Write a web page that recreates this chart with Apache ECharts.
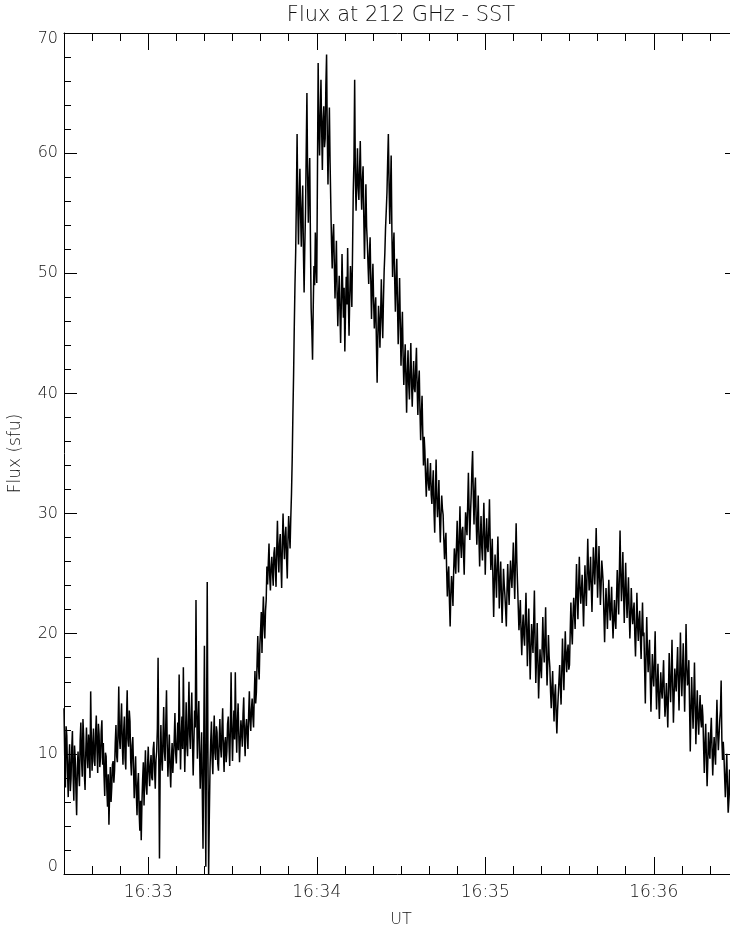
<!DOCTYPE html>
<html>
<head>
<meta charset="utf-8">
<script src="https://cdn.jsdelivr.net/npm/echarts@6/dist/echarts.min.js"></script>
<style>
html,body{margin:0;padding:0;background:#fff;}
#chart{width:730px;height:925px;}
</style>
</head>
<body>
<div id="chart"></div>
<script>
// ---- data (flux in sfu, one sample every 0.25 s, starting 16:32:30 UT) ----
const startMinute = 32.5;     // minutes after 16:00 UT -> 16:32:30
const stepSeconds = 0.25;

const flux_163230 = [
  13.8, 9.9, 7.2, 12.3, 11.5, 8.6, 6.4, 9.2, 10.8, 6.9, 7.9, 10.4, 11.9, 8.2, 6.1, 10.7, 9.6, 7.0, 4.9, 8.8,
  10.2, 8.4, 7.3, 11.1, 12.6, 9.5, 8.1, 12.9, 11.4, 8.3, 7.0, 10.1, 12.2, 9.9, 8.8, 11.6, 10.5, 8.0, 15.2, 10.9,
  8.6, 10.8, 12.1, 9.4, 9.0, 11.7, 13.2, 10.3, 8.4, 12.5, 11.6, 8.9, 9.7, 11.9, 12.8, 9.1, 10.9, 8.2, 6.5, 10.1,
  9.8, 7.1, 5.6, 8.3, 4.1, 6.8, 8.9, 6.0, 7.2, 9.1, 9.4, 7.6, 8.6, 10.9, 12.4, 9.8, 9.3, 12.0, 15.6, 11.3,
  10.4, 12.6, 14.2, 10.8, 9.1, 11.9, 13.1, 9.6, 8.7, 12.8, 15.3, 11.2, 10.6, 13.6, 12.7, 9.4, 8.2, 10.7, 11.4, 8.9,
  6.3, 8.1, 9.8, 6.7, 4.9, 7.5, 8.4, 5.2, 3.6, 6.1, 2.8, 5.9, 7.9, 9.3, 5.7, 8.2, 10.3, 7.4, 6.6, 9.0
];
const flux_163300 = [
  10.6, 8.5, 7.3, 9.1, 9.9, 8.0, 7.8, 10.4, 11.0, 8.7, 7.1, 9.5, 10.2, 12.1, 18.0, 9.7, 1.3, 8.9, 12.4, 9.6,
  8.6, 11.4, 13.9, 10.2, 9.4, 12.6, 15.3, 10.8, 8.1, 9.9, 11.6, 8.8, 7.2, 9.6, 10.9, 8.4, 8.3, 11.2, 13.4, 10.1,
  9.2, 11.0, 12.6, 10.3, 16.6, 11.8, 8.7, 11.5, 13.1, 10.4, 17.2, 12.0, 8.5, 11.3, 14.3, 10.7, 9.8, 12.9, 16.0, 11.6,
  10.4, 13.2, 15.1, 11.0, 8.2, 10.9, 13.6, 12.2, 22.8, 13.9, 9.6, 12.5, 14.4, 10.3, 7.1, 9.4, 11.8, 6.8, 2.1, 10.6,
  19.0, 8.1, 0.6, 11.7, 24.3, 10.2, 0.0, 4.9, 8.8, 11.1, 12.7, 9.6, 8.3, 11.4, 13.2, 10.1, 9.5, 12.3, 11.8, 9.2,
  8.6, 11.0, 12.9, 10.6, 9.7, 12.1, 13.8, 10.4, 8.5, 10.9, 11.4, 9.3, 10.2, 12.5, 13.1, 10.8, 9.0, 12.2, 16.8, 12.0
];
const flux_163330 = [
  9.4, 11.9, 13.6, 11.2, 16.8, 12.4, 10.1, 12.7, 14.2, 11.5, 9.3, 11.1, 12.8, 11.8, 10.6, 13.3, 14.7, 11.4, 9.8, 12.2,
  12.9, 11.6, 10.4, 13.3, 15.2, 12.8, 11.9, 13.7, 14.6, 13.1, 12.2, 14.8, 16.9, 14.2, 15.1, 17.6, 19.8, 17.3, 16.2, 19.1,
  20.3, 21.8, 18.4, 21.2, 23.1, 20.7, 19.6, 21.9, 22.8, 25.6, 24.1, 25.9, 27.5, 24.8, 23.6, 25.5, 26.4, 25.1, 24.0, 26.7,
  27.2, 25.4, 23.9, 27.0, 29.4, 26.6, 25.1, 27.5, 28.3, 25.9, 23.8, 27.4, 30.0, 27.7, 26.2, 28.1, 28.9, 26.3, 24.6, 27.8,
  29.8, 28.3, 27.1, 29.6, 31.6, 34.4, 38.2, 41.5, 45.6, 49.1, 51.8, 56.3, 61.6, 55.7, 52.4, 56.2, 58.7, 54.9, 52.2, 55.4,
  57.3, 51.9, 48.4, 52.3, 55.1, 60.2, 65.0, 58.1, 54.2, 57.6, 59.6, 52.8, 47.1, 45.3, 42.8, 47.2, 50.6, 49.0, 53.4, 50.7
];
const flux_163400 = [
  49.2, 58.3, 67.5, 62.4, 59.8, 63.1, 66.1, 61.9, 58.6, 62.7, 63.9, 60.5, 61.2, 65.7, 68.2, 61.5, 57.4, 60.9, 63.8, 59.2,
  55.8, 52.6, 50.4, 53.0, 54.1, 50.8, 47.9, 50.2, 52.7, 48.3, 45.6, 48.1, 49.8, 46.9, 44.2, 47.5, 51.6, 48.6, 46.3, 48.8,
  43.5, 46.9, 49.7, 47.4, 52.1, 47.8, 44.8, 48.1, 50.6, 49.2, 47.2, 51.9, 56.8, 59.4, 66.1, 58.0, 55.2, 57.9, 60.4, 57.1,
  56.1, 58.7, 61.0, 57.2, 55.3, 57.8, 58.9, 54.6, 51.2, 54.3, 57.4, 53.9, 52.6, 50.8, 49.1, 51.6, 53.0, 49.4, 46.2, 49.0,
  50.8, 47.7, 45.4, 47.1, 48.0, 44.1, 40.9, 44.8, 47.3, 45.9, 43.8, 46.6, 49.5, 46.4, 44.6, 47.8, 50.2, 51.7, 53.8, 55.2,
  56.7, 59.3, 61.6, 57.5, 54.1, 56.9, 59.8, 53.6, 49.7, 52.0, 53.4, 49.5, 46.8, 49.3, 51.2, 47.4, 44.1, 47.0, 49.6, 45.8
];
const flux_163430 = [
  42.3, 44.9, 46.8, 43.1, 40.7, 42.5, 44.1, 41.2, 38.4, 41.7, 43.6, 40.8, 39.5, 42.0, 44.2, 40.9, 38.9, 41.1, 42.7, 40.4,
  40.1, 42.2, 43.8, 40.5, 38.2, 40.9, 41.9, 38.6, 36.1, 38.3, 39.8, 36.7, 34.0, 36.4, 35.2, 33.1, 31.4, 33.3, 34.6, 32.5,
  31.9, 33.0, 34.2, 31.6, 30.8, 32.4, 33.6, 30.2, 28.4, 31.7, 34.5, 31.3, 29.7, 31.0, 32.8, 29.5, 27.6, 29.9, 31.5, 30.4,
  29.9, 27.8, 26.2, 27.6, 28.4, 25.3, 23.1, 24.9, 25.6, 22.7, 20.6, 23.4, 24.8, 23.7, 22.3, 25.2, 27.1, 26.0, 25.0, 27.3,
  29.4, 26.9, 25.1, 28.1, 30.6, 27.5, 26.3, 28.6, 28.9, 26.7, 24.9, 27.9, 30.1, 29.2, 28.2, 30.8, 33.4, 30.3, 27.8, 30.0,
  31.6, 33.7, 35.2, 31.4, 29.1, 31.8, 33.0, 29.6, 27.4, 29.3, 31.5, 28.0, 25.6, 27.9, 29.8, 27.2, 26.1, 28.5, 30.9, 28.3
];
const flux_163500 = [
  24.9, 27.5, 29.6, 27.2, 26.8, 28.7, 31.2, 27.8, 25.3, 26.4, 27.9, 24.2, 21.4, 24.5, 26.6, 24.8, 23.0, 25.7, 28.1, 25.2,
  22.1, 24.3, 26.0, 23.4, 20.9, 23.0, 25.4, 24.1, 23.2, 22.0, 20.6, 23.6, 25.8, 23.9, 22.4, 24.6, 26.1, 24.7, 23.8, 25.7,
  27.6, 24.8, 22.9, 26.3, 29.2, 26.0, 24.1, 22.2, 20.3, 21.5, 22.8, 20.1, 18.2, 20.4, 21.6, 19.8, 19.0, 21.2, 23.4, 20.6,
  17.3, 19.9, 22.1, 19.2, 16.2, 18.5, 20.8, 19.6, 18.4, 21.0, 23.6, 19.3, 15.9, 18.0, 20.9, 17.8, 14.6, 16.8, 18.7, 17.1,
  16.3, 18.8, 21.4, 19.0, 17.6, 19.7, 22.2, 18.4, 15.7, 17.5, 19.9, 18.1, 17.2, 15.2, 13.8, 15.6, 16.9, 14.5, 12.7, 14.9,
  15.8, 13.3, 11.7, 13.6, 14.9, 16.1, 17.4, 15.5, 14.1, 16.9, 19.6, 17.2, 15.3, 17.9, 20.2, 18.0, 16.8, 18.5, 19.1, 17.0
];
const flux_163530 = [
  17.4, 20.1, 22.6, 20.3, 19.1, 21.5, 23.0, 21.7, 20.4, 23.3, 25.8, 23.1, 21.2, 24.0, 26.4, 23.9, 22.5, 23.6, 24.9, 22.8,
  20.6, 23.2, 25.7, 23.8, 22.3, 25.0, 27.9, 25.3, 23.6, 24.7, 26.4, 23.9, 21.8, 24.5, 27.2, 25.6, 24.1, 26.2, 28.8, 25.9,
  23.0, 25.1, 27.3, 24.6, 22.4, 24.0, 26.1, 25.2, 24.2, 21.6, 19.3, 21.9, 23.8, 22.1, 20.4, 22.7, 24.5, 22.3, 21.1, 22.5,
  23.9, 21.4, 19.6, 21.3, 22.8, 21.1, 20.4, 23.0, 25.3, 23.4, 21.6, 24.9, 28.6, 25.1, 22.7, 24.4, 26.8, 23.5, 20.9, 23.7,
  25.9, 23.1, 21.3, 23.2, 24.7, 21.8, 19.6, 21.5, 23.8, 22.0, 20.8, 21.9, 22.6, 19.9, 18.1, 20.6, 23.4, 20.7, 19.4, 21.2,
  21.9, 19.6, 17.9, 20.5, 22.6, 19.8, 20.1, 17.1, 14.2, 18.2, 21.4, 18.6, 16.8, 18.4, 19.5, 16.2, 13.5, 16.0, 18.3, 16.6
];
const flux_163600 = [
  15.6, 17.7, 20.2, 16.4, 13.7, 15.8, 17.5, 14.8, 12.9, 15.1, 16.8, 15.3, 14.6, 16.2, 17.8, 15.0, 13.1, 14.3, 15.9, 14.0,
  12.2, 15.4, 18.4, 15.9, 14.3, 16.7, 19.5, 15.6, 12.6, 14.8, 17.1, 16.0, 15.2, 17.3, 18.9, 16.1, 13.6, 16.5, 20.1, 16.9,
  14.8, 17.0, 19.2, 16.3, 13.5, 16.6, 20.8, 17.4, 15.7, 16.2, 17.8, 13.9, 10.2, 13.7, 16.4, 14.2, 12.1, 14.6, 17.6, 14.1,
  10.8, 13.4, 15.3, 12.9, 11.6, 13.5, 14.9, 12.8, 12.2, 14.1, 13.1, 10.6, 8.4, 10.9, 12.5, 9.7, 7.3, 9.4, 11.8, 10.2,
  9.6, 11.7, 13.0, 10.5, 8.2, 10.1, 11.4, 10.0, 9.1, 12.0, 14.5, 11.9, 10.3, 11.5, 12.8, 13.6, 16.1, 11.2, 9.5, 11.0,
  9.8, 8.0, 6.4, 8.3, 10.0, 7.2, 5.1, 6.9, 8.7, 6.6, 4.2, 6.0, 7.6, 6.8, 5.3, 7.1, 8.9, 7.5, 6.1, 7.7
];

const xTickMinutes = [33, 34, 35, 36];
const xTickLabels = ['16:33', '16:34', '16:35', '16:36'];
const yTickValues = [0, 10, 20, 30, 40, 50, 60, 70];
const yTickLabels = ['0', '10', '20', '30', '40', '50', '60', '70'];

const titleText = 'Flux at 212 GHz - SST';
const xName = 'UT';
const yName = 'Flux (sfu)';

// ---- chart ----
const fluxValues = [].concat(flux_163230, flux_163300, flux_163330, flux_163400,
                             flux_163430, flux_163500, flux_163530, flux_163600);
const seriesData = fluxValues.map((v, i) => [startMinute + i * stepSeconds / 60, v]);

const FONT = "'DejaVu Sans', sans-serif";
const INK = '#111';

function xLabel(v) {
  const k = xTickMinutes.indexOf(Math.round(v * 1000) / 1000);
  return k >= 0 ? xTickLabels[k] : '';
}
function yLabel(v) {
  const k = yTickValues.indexOf(Math.round(v * 1000) / 1000);
  if (k < 0) return '';
  if (k === yTickValues.length - 1) return '{top|' + yTickLabels[k] + '}';
  if (k === 0) return '{bot|' + yTickLabels[k] + '}';
  return yTickLabels[k];
}

const xCommon = {
  type: 'value', min: 32.5, max: 36.5, minInterval: 1, maxInterval: 1,
  splitLine: { show: false },
  axisLine: { show: true, onZero: false, lineStyle: { color: '#000', width: 1 } },
  axisTick: { show: true, inside: true, length: 17, lineStyle: { color: '#000', width: 1 } },
  minorTick: { show: true, splitNumber: 6, length: 8, lineStyle: { color: '#000', width: 1 } },
  minorSplitLine: { show: false }
};
const yCommon = {
  type: 'value', min: 0, max: 70, interval: 10,
  splitLine: { show: false },
  axisLine: { show: true, onZero: false, lineStyle: { color: '#000', width: 1 } },
  axisTick: { show: true, inside: true, length: 13, lineStyle: { color: '#000', width: 1 } },
  minorTick: { show: true, splitNumber: 5, length: 7, lineStyle: { color: '#000', width: 1 } },
  minorSplitLine: { show: false }
};

const option = {
  animation: false,
  backgroundColor: '#fff',
  grid: { left: 64, top: 33, width: 674, height: 841, containLabel: false, outerBoundsMode: 'none' },
  xAxis: [
    Object.assign({}, xCommon, {
      position: 'bottom',
      axisLabel: { formatter: xLabel, fontSize: 17, color: INK, fontFamily: FONT, fontWeight: 200, margin: 10,
                   showMinLabel: false, showMaxLabel: false },
      name: xName, nameLocation: 'middle', nameGap: 38,
      nameTextStyle: { fontSize: 16, color: INK, fontFamily: FONT, fontWeight: 200 }
    }),
    Object.assign({}, xCommon, {
      position: 'top',
      axisLabel: { show: false },
      name: titleText, nameLocation: 'middle', nameGap: 7,
      nameTextStyle: { fontSize: 21, color: INK, fontFamily: FONT, fontWeight: 200 }
    })
  ],
  yAxis: [
    Object.assign({}, yCommon, {
      position: 'left',
      axisLabel: {
        formatter: yLabel, fontSize: 16, color: INK, fontFamily: FONT, fontWeight: 200, margin: 6,
        rich: {
          top: { fontSize: 16, color: INK, fontFamily: FONT, fontWeight: 200, padding: [12, 0, 0, 0] },
          bot: { fontSize: 16, color: INK, fontFamily: FONT, fontWeight: 200, padding: [0, 0, 14, 0] }
        }
      },
      name: yName, nameLocation: 'middle', nameGap: 40, nameRotate: 90,
      nameTextStyle: { fontSize: 17, color: INK, fontFamily: FONT, fontWeight: 200 }
    }),
    Object.assign({}, yCommon, {
      position: 'right',
      axisLabel: { show: false }
    })
  ],
  series: [{
    type: 'line',
    xAxisIndex: 0, yAxisIndex: 0,
    data: seriesData,
    showSymbol: false, symbol: 'none',
    silent: true,
    lineStyle: { color: '#000', width: 1.5, join: 'miter', miterLimit: 4 }
  }]
};

const chart = echarts.init(document.getElementById('chart'), null, { renderer: 'canvas' });
chart.setOption(option);
</script>
</body>
</html>
